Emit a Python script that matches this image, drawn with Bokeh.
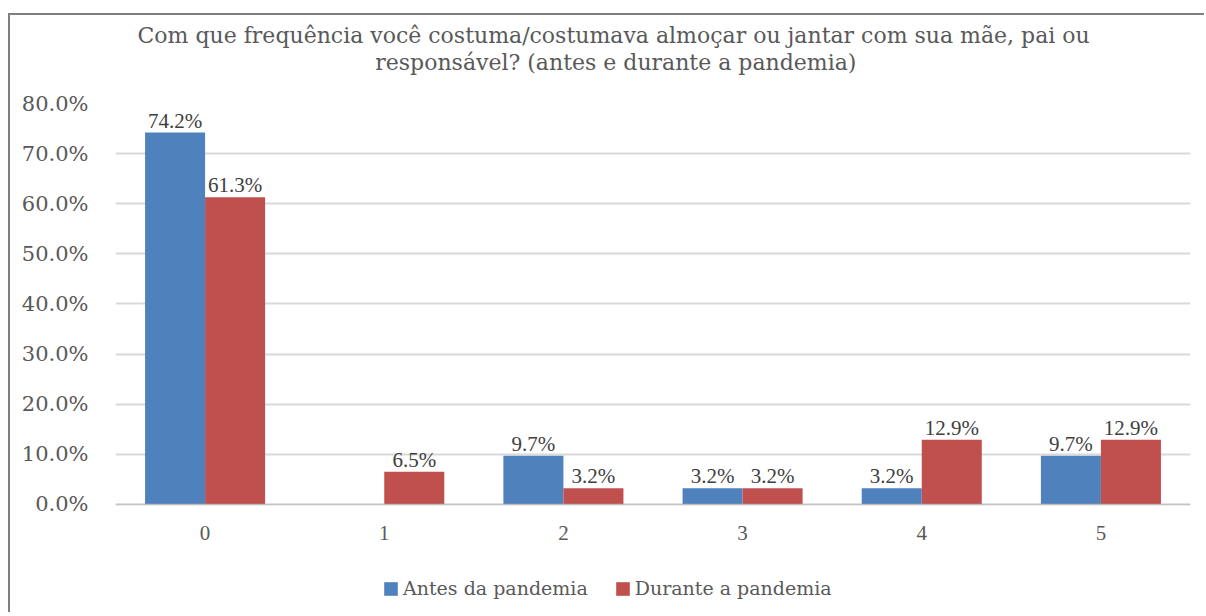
from bokeh.plotting import figure
from bokeh.models import (ColumnDataSource, FactorRange, Legend, LegendItem,
                          PrintfTickFormatter, FixedTicker, LabelSet, Title, Span)
from bokeh.transform import dodge
from bokeh.embed import file_html
from bokeh.resources import INLINE

title_lines = ["Com que frequência você costuma/costumava almoçar ou jantar com sua mãe, pai ou",
               "responsável?  (antes e durante a pandemia)"]
categories = ["0", "1", "2", "3", "4", "5"]
antes = [74.2, 0.0, 9.7, 3.2, 3.2, 9.7]
durante = [61.3, 6.5, 3.2, 3.2, 12.9, 12.9]
series_names = ["Antes da pandemia", "Durante a pandemia"]
y_ticks = [0, 10, 20, 30, 40, 50, 60, 70, 80]

FONT = "DejaVu Serif"
BLUE = "#4F81BD"
RED = "#C0504D"
GRID = "#D9D9D9"
TXT = "#595959"
NB = "\u00a0"

src = ColumnDataSource(dict(cat=categories, antes=antes, durante=durante))

# the frame reaches below zero so the category labels and legend sit inside it
p = figure(x_range=FactorRange(*categories, range_padding=0), y_range=(-20, 80),
           frame_width=1075, frame_height=501,
           min_border_left=105, min_border_right=14, min_border_top=88, min_border_bottom=8,
           output_backend="svg", toolbar_location=None,
           styles={"margin-left": "8px", "margin-top": "13px",
                   "border-left": "2px solid #7F7F7F", "border-top": "2px solid #7F7F7F"})

bw = 0.335
r1 = p.vbar(x=dodge("cat", -bw / 2, range=p.x_range), top="antes", width=bw, source=src,
            fill_color=BLUE, line_color=None)
r2 = p.vbar(x=dodge("cat", bw / 2, range=p.x_range), top="durante", width=bw, source=src,
            fill_color=RED, line_color=None)

# data labels (non-zero values)
a_idx = [i for i, v in enumerate(antes) if v > 0]
d_idx = [i for i, v in enumerate(durante) if v > 0]
la = ColumnDataSource(dict(cat=[categories[i] for i in a_idx], y=[antes[i] for i in a_idx],
                           t=["%.1f%%" % antes[i] for i in a_idx]))
ld = ColumnDataSource(dict(cat=[categories[i] for i in d_idx], y=[durante[i] for i in d_idx],
                           t=["%.1f%%" % durante[i] for i in d_idx]))
for s, off in ((la, -bw / 2), (ld, bw / 2)):
    p.add_layout(LabelSet(x=dodge("cat", off, range=p.x_range), y="y", text="t", source=s,
                          text_align="center", text_baseline="bottom", y_offset=0,
                          text_font=FONT, text_font_size="21px", text_color="#404040"))

# category axis: baseline + labels under it
p.add_layout(Span(location=0, dimension="width", line_color="#BFBFBF", line_width=1))
cat_src = ColumnDataSource(dict(cat=categories, y=[-5.8] * len(categories)))
p.add_layout(LabelSet(x="cat", y="y", text="cat", source=cat_src, text_align="center",
                      text_baseline="middle", text_font=FONT, text_font_size="21px",
                      text_color=TXT))
p.xaxis.visible = False

# two-line title, second line padded so both lines are centred on the same point
p.title.text = title_lines[0] + "\n" + NB * 34 + title_lines[1]
p.title.align = "left"
p.title.offset = 22
p.title.standoff = 0
p.title.text_font = FONT
p.title.text_font_size = "22px"
p.title.text_font_style = "normal"
p.title.text_color = TXT
p.title.text_line_height = 1.08
# spacer between frame and title
p.add_layout(Title(text=NB, text_font_size="1px", standoff=26), "above")

# y axis
p.yaxis.ticker = FixedTicker(ticks=y_ticks)
p.yaxis.formatter = PrintfTickFormatter(format="%.1f%%")
p.yaxis.axis_line_color = None
p.yaxis.major_tick_line_color = None
p.yaxis.minor_tick_line_color = None
p.yaxis.major_label_text_font = FONT
p.yaxis.major_label_text_font_size = "21px"
p.yaxis.major_label_text_color = TXT
p.yaxis.major_label_standoff = 21

p.xgrid.grid_line_color = None
p.ygrid.ticker = FixedTicker(ticks=y_ticks)
p.ygrid.grid_line_color = GRID
p.ygrid.grid_line_width = 2
p.outline_line_color = None

legend = Legend(items=[LegendItem(label=series_names[0], renderers=[r1]),
                       LegendItem(label=series_names[1], renderers=[r2])],
                orientation="horizontal", location=(267, 5),
                label_text_font=FONT, label_text_font_size="19px", label_text_color=TXT,
                glyph_width=17, glyph_height=17, label_standoff=4, spacing=26,
                padding=0, margin=0, border_line_color=None, background_fill_alpha=0)
p.add_layout(legend)

open("out.html", "w").write(file_html(p, INLINE))
